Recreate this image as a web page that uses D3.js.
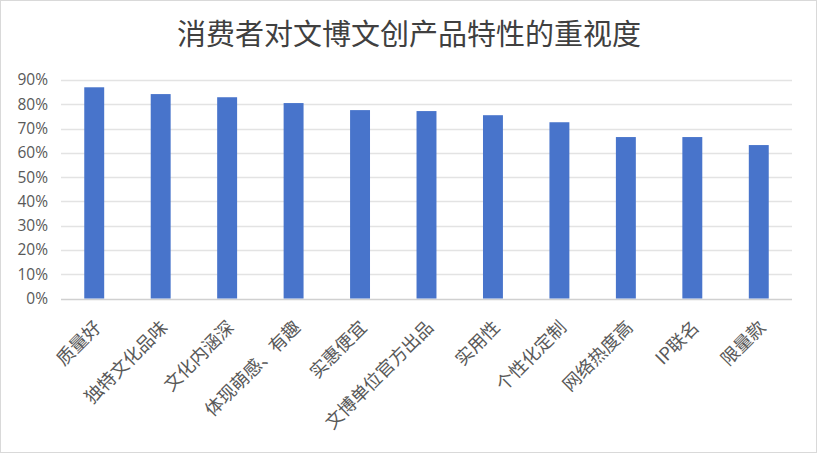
<!DOCTYPE html>
<html>
<head>
<meta charset="utf-8">
<script src="https://cdn.jsdelivr.net/npm/d3@7"></script>
<style>
  body { margin: 0; background: #fff; }
  svg { display: block; }
</style>
</head>
<body>
<div id="chart"></div>
<script>
// chart data
const categories = ["质量好", "独特文化品味", "文化内涵深", "体现萌感、有趣", "实惠便宜", "文博单位官方出品",
    "实用性", "个性化定制", "网络热度高", "IP联名", "限量款"];
const values = [0.870, 0.842, 0.829, 0.805, 0.776, 0.772, 0.755, 0.726, 0.665, 0.665, 0.632];
const yTicks = [0, 0.1, 0.2, 0.3, 0.4, 0.5, 0.6, 0.7, 0.8, 0.9];
const title = "消费者对文博文创产品特性的重视度";

const width = 817, height = 453;
const margin = { top: 80, right: 25, bottom: 155, left: 61 };

const svg = d3.select("#chart")
    .append("svg")
    .attr("width", width)
    .attr("height", height);

// outer border
svg.append("rect")
    .attr("x", 0.5).attr("y", 0.5)
    .attr("width", width - 1).attr("height", height - 1)
    .attr("fill", "#fff")
    .attr("stroke", "#d9d9d9");

const xScale = d3.scaleBand()
    .domain(categories)
    .range([margin.left, width - margin.right])
    .paddingInner(0.7)
    .paddingOuter(0.35);

const yScale = d3.scaleLinear()
    .domain([0, 0.9])
    .range([height - margin.bottom + 0.5, margin.top]);

// gridlines
svg.append("g")
    .selectAll("line")
    .data(yTicks)
    .enter()
    .append("line")
    .attr("x1", margin.left)
    .attr("x2", width - margin.right)
    .attr("y1", d => Math.round(yScale(d)) + 0.5)
    .attr("y2", d => Math.round(yScale(d)) + 0.5)
    .attr("stroke", d => d === 0 ? "#d0d0d0" : "#e3e3e3")
    .attr("stroke-width", d => d === 0 ? 1.5 : 1.3);

// y axis labels
const yAxis = d3.axisLeft(yScale)
    .tickValues(yTicks)
    .tickFormat(d3.format(".0%"))
    .tickSize(0)
    .tickPadding(0);

svg.append("g")
    .attr("transform", `translate(${margin.left - 13},0)`)
    .call(yAxis)
    .call(g => g.select(".domain").remove())
    .selectAll("text")
    .attr("fill", "#595959")
    .attr("font-family", "'Open Sans', 'Noto Sans', sans-serif")
    .attr("font-size", 15.5);

// bars
svg.append("g")
    .selectAll("rect")
    .data(values)
    .enter()
    .append("rect")
    .attr("x", (d, i) => xScale(categories[i]))
    .attr("y", d => yScale(d))
    .attr("width", xScale.bandwidth())
    .attr("height", d => yScale(0) - yScale(d))
    .attr("fill", "#4874cb");

// x axis labels, rotated
const xAxis = d3.axisBottom(xScale).tickSize(0).tickPadding(0);
svg.append("g")
    .attr("transform", `translate(0,${yScale(0)})`)
    .call(xAxis)
    .call(g => g.select(".domain").remove())
    .selectAll("text")
    .attr("fill", "#595959")
    .attr("font-family", "'Noto Sans CJK SC', sans-serif")
    .attr("font-size", 18)
    .attr("text-anchor", "end")
    .attr("dy", null)
    .attr("y", 0)
    .attr("transform", "translate(8,30) rotate(-45)");

// title
svg.append("text")
    .attr("x", 409)
    .attr("y", 45)
    .attr("text-anchor", "middle")
    .attr("fill", "#404040")
    .attr("font-family", "'Noto Sans CJK SC', sans-serif")
    .attr("font-size", 29)
    .text(title);
</script>
</body>
</html>
